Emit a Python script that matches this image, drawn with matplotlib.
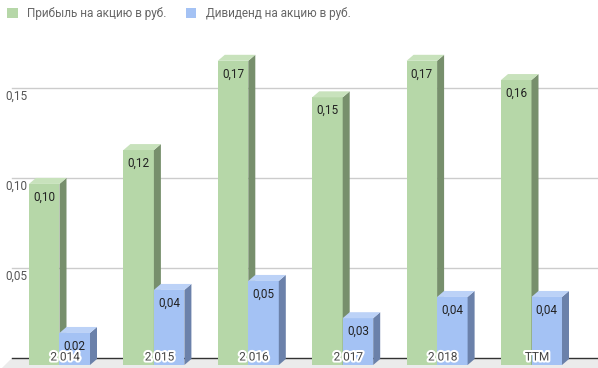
import matplotlib
matplotlib.use('Agg')
import matplotlib.pyplot as plt
from matplotlib.patches import Polygon, Patch
import matplotlib.patheffects as pe

plt.rcParams['font.family'] = ['Roboto', 'DejaVu Sans']

categories = ['2 014', '2 015', '2 016', '2 017', '2 018', 'TTM']
earnings = [0.1006, 0.1194, 0.169, 0.1487, 0.169, 0.1583]
dividends = [0.0178, 0.0417, 0.0467, 0.026, 0.0378, 0.0378]
yticks = [0.05, 0.10, 0.15]
names = ['Прибыль на акцию в руб.', 'Дивиденд на акцию в руб.']

# colours: front, side, top
green = ('#b6d7a8', '#778f6c', '#c8e2bc')
blue = ('#a4c2f4', '#6b81aa', '#bcd2f7')

PX = 1 / 94.4   # data units per pixel, x
PY = 1 / 1800   # data units per pixel, y
dx, dy = 7 * PX, 6 * PY       # bar depth
back = 7 * PY                 # back wall offset
w = 30.5 * PX

fig = plt.figure(figsize=(5.98, 3.68), dpi=100)
ax = fig.add_axes([0, 0, 1, (368 - 30) / 368])
ax.set_xlim(-59.5 * PX, (598 - 59.5) * PX)
ax.set_ylim(-3 * PY, (365 - 30) * PY)
ax.axis('off')

x_wall = (12 - 59.5) * PX
x_right = (598 - 59.5) * PX

# floor
ax.add_patch(Polygon([(x_wall - 10 * PX, -3 * PY), (x_wall, back), (x_right, back), (x_right, -3 * PY)],
                     closed=True, facecolor='#ebebeb', edgecolor='none', zorder=0))
ax.plot([x_wall, x_right], [back, back], color='#333333', lw=1, zorder=1)

for v in yticks:
    ax.plot([x_wall, x_right], [v + back, v + back], color='#cccccc', lw=1, zorder=0.5)
    ax.text((5 - 59.5) * PX, v + back - 2 * PY, ('%.2f' % v).replace('.', ','),
            ha='left', va='top', fontsize=8.5, color='#555555')


def bar3d(x0, h, cols, z):
    x1 = x0 + w
    ax.bar(x0, h, width=w, align='edge', color=cols[0], zorder=z)
    ax.add_patch(Polygon([(x1, 0), (x1 + dx, dy), (x1 + dx, h + dy), (x1, h)],
                         closed=True, facecolor=cols[1], edgecolor='none', zorder=z))
    ax.add_patch(Polygon([(x0, h), (x0 + dx, h + dy), (x1 + dx, h + dy), (x1, h)],
                         closed=True, facecolor=cols[2], edgecolor='none', zorder=z))
    ax.text(x0 + w / 2, h - 13 * PY, ('%.2f' % h).replace('.', ','), ha='center', va='center',
            fontsize=8.5, color='#222222', zorder=z + 0.5)


for i, cat in enumerate(categories):
    bar3d(i - w, earnings[i], green, 2 + i * 0.1)
    bar3d(i, dividends[i], blue, 2.05 + i * 0.1)
    ax.text(i + 5.5 * PX, 8 * PY, cat, ha='center', va='center', fontsize=8.5, color='#444444',
            zorder=5, path_effects=[pe.withStroke(linewidth=3, foreground='white')])

handles = [Patch(facecolor=green[0]), Patch(facecolor=blue[0])]
fig.legend(handles, names, loc='upper left', bbox_to_anchor=(0.0, 1.0), ncol=2, frameon=False,
           fontsize=8.5, handlelength=0.9, handleheight=0.9, handletextpad=0.8, columnspacing=1.6,
           borderaxespad=0.2, labelcolor='#666666')

fig.savefig('out.png', dpi=100)
